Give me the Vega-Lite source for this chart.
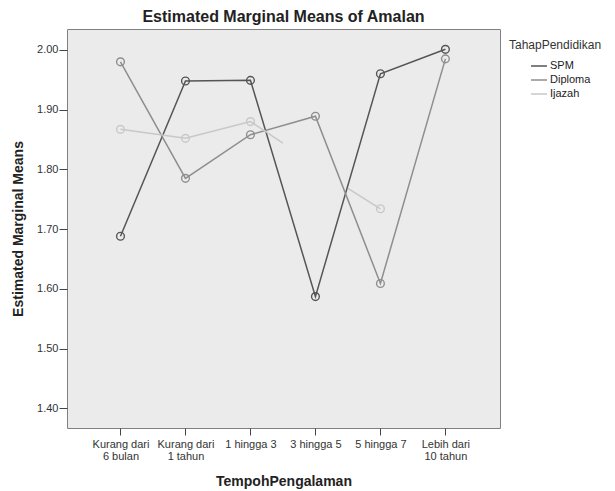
{
  "$schema": "https://vega.github.io/schema/vega-lite/v6.json",
  "width": 433,
  "height": 399,
  "autosize": "none",
  "padding": {"left": 67, "top": 29, "right": 115, "bottom": 63},
  "background": "white",
  "title": {
    "text": "Estimated Marginal Means of Amalan",
    "font": "Liberation Sans",
    "fontSize": 16,
    "fontWeight": "bold",
    "color": "#222222",
    "anchor": "middle",
    "frame": "group",
    "offset": 4
  },
  "config": {
    "font": "Liberation Sans",
    "view": {"fill": "#ebebeb", "stroke": "#808080", "strokeWidth": 1}
  },
  "data": {
    "values": [
      {"TahapPendidikan": "SPM", "Urutan": 1, "TempohPengalaman": "Kurang dari 6 bulan", "Min": 1.688, "Segmen": "a"},
      {"TahapPendidikan": "SPM", "Urutan": 2, "TempohPengalaman": "Kurang dari 1 tahun", "Min": 1.948, "Segmen": "a"},
      {"TahapPendidikan": "SPM", "Urutan": 3, "TempohPengalaman": "1 hingga 3", "Min": 1.949, "Segmen": "a"},
      {"TahapPendidikan": "SPM", "Urutan": 4, "TempohPengalaman": "3 hingga 5", "Min": 1.587, "Segmen": "a"},
      {"TahapPendidikan": "SPM", "Urutan": 5, "TempohPengalaman": "5 hingga 7", "Min": 1.960, "Segmen": "a"},
      {"TahapPendidikan": "SPM", "Urutan": 6, "TempohPengalaman": "Lebih dari 10 tahun", "Min": 2.001, "Segmen": "a"},
      {"TahapPendidikan": "Diploma", "Urutan": 1, "TempohPengalaman": "Kurang dari 6 bulan", "Min": 1.980, "Segmen": "a"},
      {"TahapPendidikan": "Diploma", "Urutan": 2, "TempohPengalaman": "Kurang dari 1 tahun", "Min": 1.785, "Segmen": "a"},
      {"TahapPendidikan": "Diploma", "Urutan": 3, "TempohPengalaman": "1 hingga 3", "Min": 1.858, "Segmen": "a"},
      {"TahapPendidikan": "Diploma", "Urutan": 4, "TempohPengalaman": "3 hingga 5", "Min": 1.889, "Segmen": "a"},
      {"TahapPendidikan": "Diploma", "Urutan": 5, "TempohPengalaman": "5 hingga 7", "Min": 1.609, "Segmen": "a"},
      {"TahapPendidikan": "Diploma", "Urutan": 6, "TempohPengalaman": "Lebih dari 10 tahun", "Min": 1.985, "Segmen": "a"},
      {"TahapPendidikan": "Ijazah", "Urutan": 1, "TempohPengalaman": "Kurang dari 6 bulan", "Min": 1.867, "Segmen": "a"},
      {"TahapPendidikan": "Ijazah", "Urutan": 2, "TempohPengalaman": "Kurang dari 1 tahun", "Min": 1.852, "Segmen": "a"},
      {"TahapPendidikan": "Ijazah", "Urutan": 3, "TempohPengalaman": "1 hingga 3", "Min": 1.880, "Segmen": "a"},
      {"TahapPendidikan": "Ijazah", "Urutan": 3.5, "TempohPengalaman": null, "Min": 1.844, "Segmen": "a"},
      {"TahapPendidikan": "Ijazah", "Urutan": 4.5, "TempohPengalaman": null, "Min": 1.768, "Segmen": "b"},
      {"TahapPendidikan": "Ijazah", "Urutan": 5, "TempohPengalaman": "5 hingga 7", "Min": 1.734, "Segmen": "b"}
    ]
  },
  "encoding": {
    "x": {
      "field": "Urutan",
      "type": "quantitative",
      "scale": {"domain": [0.177, 6.84], "nice": false, "zero": false},
      "axis": {
        "title": "TempohPengalaman",
        "values": [1, 2, 3, 4, 5, 6],
        "grid": false,
        "domain": false,
        "tickSize": 7,
        "tickColor": "#444444",
        "labelFontSize": 11,
        "labelColor": "#333333",
        "labelBaseline": "top",
        "labelPadding": 3,
        "labelLineHeight": 12,
        "labelFlush": false,
        "labelOverlap": false,
        "labelExpr": "datum.value == 1 ? ['Kurang dari', '6 bulan'] : datum.value == 2 ? ['Kurang dari', '1 tahun'] : datum.value == 3 ? '1 hingga 3' : datum.value == 4 ? '3 hingga 5' : datum.value == 5 ? '5 hingga 7' : ['Lebih dari', '10 tahun']",
        "titleFontSize": 14,
        "titleFontWeight": "bold",
        "titleColor": "#222222",
        "titleBaseline": "middle",
        "titleY": 53
      }
    },
    "y": {
      "field": "Min",
      "type": "quantitative",
      "scale": {"domain": [1.367, 2.035], "nice": false, "zero": false},
      "axis": {
        "title": "Estimated Marginal Means",
        "values": [1.4, 1.5, 1.6, 1.7, 1.8, 1.9, 2.0],
        "format": ".2f",
        "grid": false,
        "domain": false,
        "tickSize": 8,
        "tickColor": "#444444",
        "labelFontSize": 11,
        "labelColor": "#333333",
        "labelPadding": 1,
        "titleFontSize": 14,
        "titleFontWeight": "bold",
        "titleColor": "#222222",
        "titleAngle": -90,
        "titleBaseline": "middle",
        "titleAlign": "center",
        "titleX": -49,
        "titleY": 199.5
      }
    },
    "color": {
      "field": "TahapPendidikan",
      "type": "nominal",
      "scale": {"domain": ["SPM", "Diploma", "Ijazah"], "range": ["#555555", "#8e8e8e", "#c8c8c8"]},
      "legend": {
        "title": "TahapPendidikan",
        "orient": "none",
        "legendX": 442,
        "legendY": 11,
        "padding": 0,
        "symbolType": "stroke",
        "symbolSize": 256,
        "symbolStrokeWidth": 1.5,
        "symbolOffset": 21,
        "labelOffset": 2,
        "labelFontSize": 11,
        "labelColor": "#222222",
        "titleFontSize": 12,
        "titleFontWeight": "normal",
        "titleColor": "#333333",
        "titlePadding": 5,
        "rowPadding": 0
      }
    }
  },
  "layer": [
    {
      "mark": {"type": "line", "strokeWidth": 1.5},
      "encoding": {"detail": {"field": "Segmen", "type": "nominal"}}
    },
    {
      "transform": [{"filter": "datum.TempohPengalaman != null"}],
      "mark": {"type": "point", "shape": "circle", "filled": false, "size": 60, "strokeWidth": 1.4, "opacity": 1}
    }
  ]
}
